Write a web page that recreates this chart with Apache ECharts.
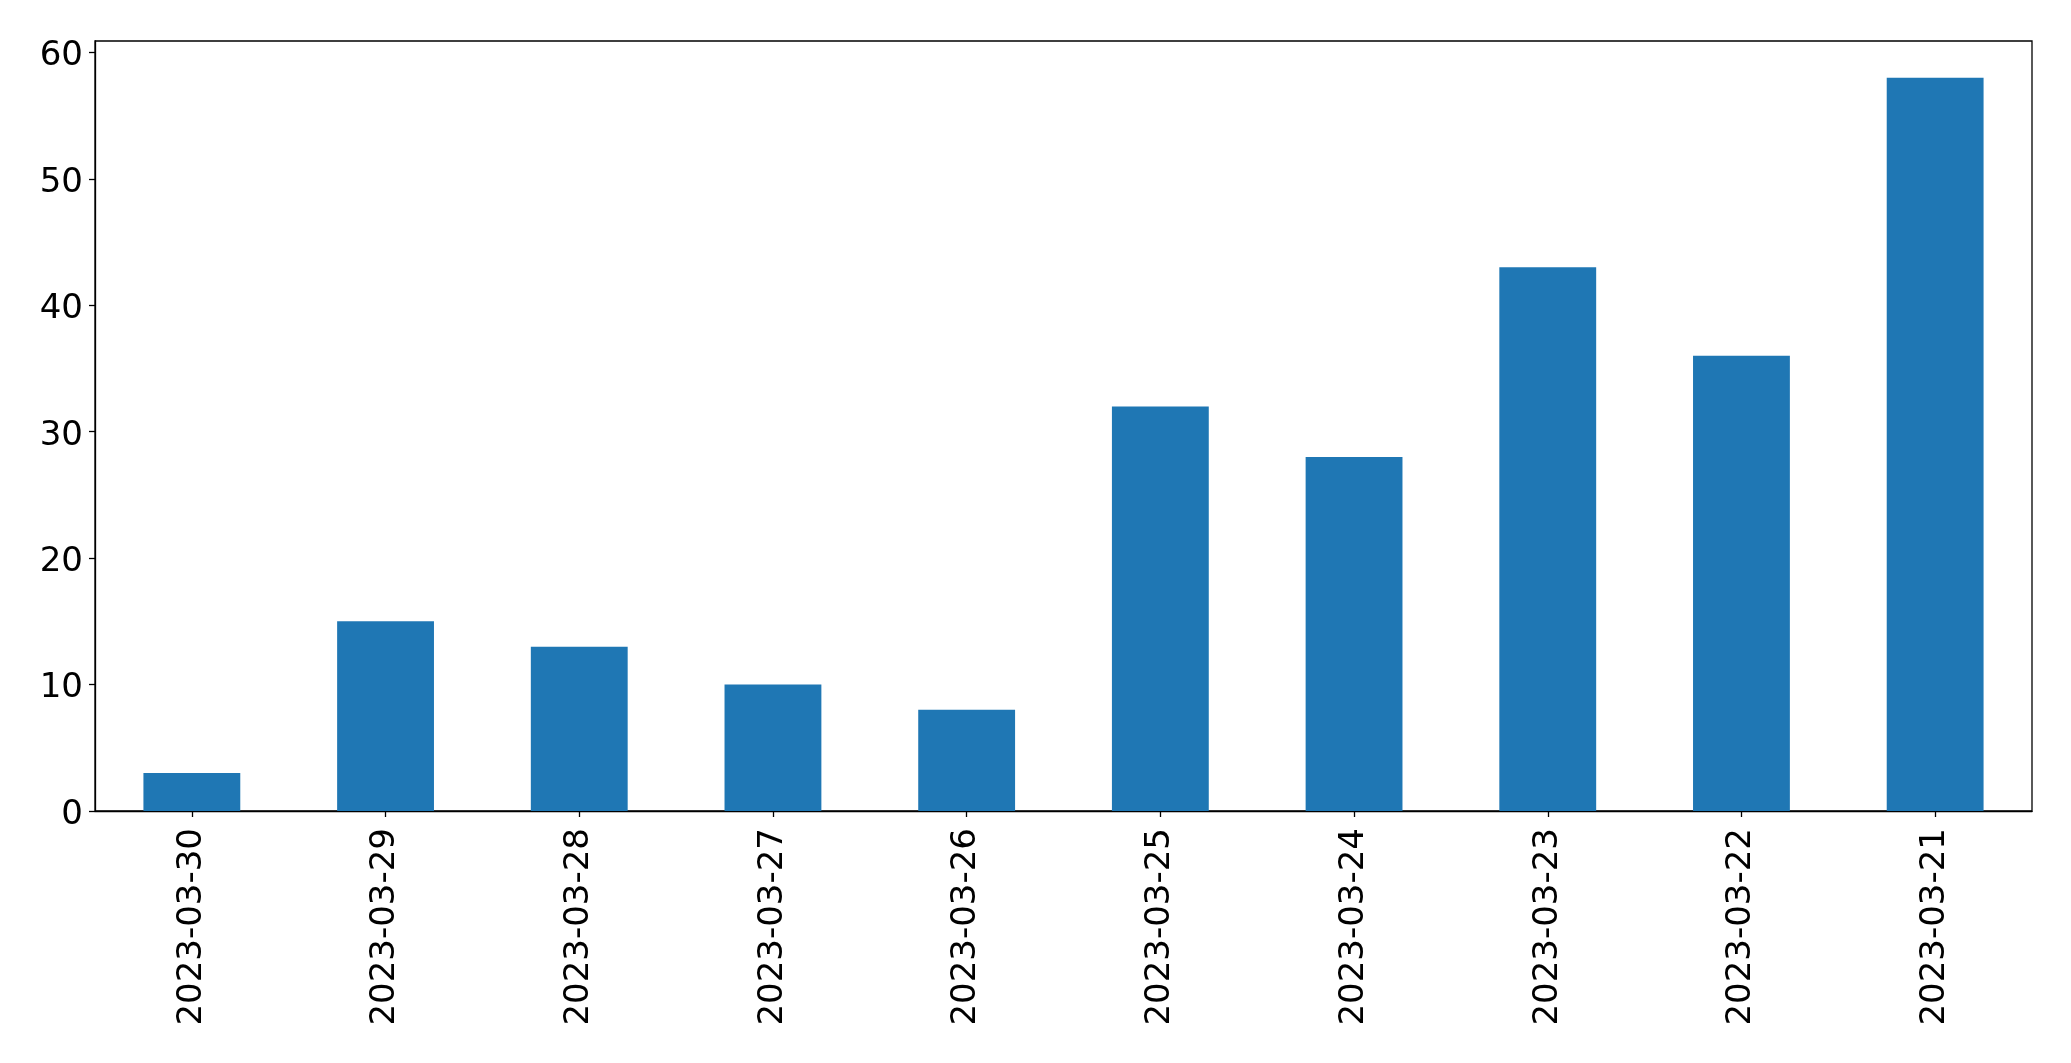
<!DOCTYPE html>
<html>
<head>
<meta charset="utf-8">
<title>bar</title>
<script src="https://cdn.jsdelivr.net/npm/echarts@6/dist/echarts.min.js"></script>
<style>
  html, body { margin: 0; padding: 0; background: #fff; }
  #chart { width: 2071px; height: 1063px; }
</style>
</head>
<body>
<div id="chart"></div>
<script>
// data
var categories = ["2023-03-30", "2023-03-29", "2023-03-28", "2023-03-27", "2023-03-26",
  "2023-03-25", "2023-03-24", "2023-03-23", "2023-03-22", "2023-03-21"];
var counts = [3, 15, 13, 10, 8, 32, 28, 43, 36, 58];
var yTicks = [0, 10, 20, 30, 40, 50, 60];

var chart = echarts.init(document.getElementById("chart"), null, { renderer: "canvas" });

var font = "DejaVu Sans";

chart.setOption({
  animation: false,
  grid: {
    left: 95,
    top: 41,
    width: 1937,
    height: 770,
    show: true,
    borderColor: "#000",
    borderWidth: 1.3,
    backgroundColor: "transparent"
  },
  xAxis: {
    type: "category",
    data: categories,
    boundaryGap: true,
    axisLine: { show: true, lineStyle: { color: "#000", width: 1.3 } },
    axisTick: { show: true, alignWithLabel: true, length: 6, lineStyle: { color: "#000", width: 1.3 } },
    axisLabel: {
      rotate: 90,
      margin: 17,
      interval: 0,
      color: "#000",
      fontFamily: font,
      fontSize: 34
    },
    splitLine: { show: false }
  },
  yAxis: {
    type: "value",
    min: 0,
    max: 60.9,
    axisLine: { show: true, lineStyle: { color: "#000", width: 1.3 } },
    axisTick: { show: true, length: 6, customValues: yTicks, lineStyle: { color: "#000", width: 1.3 } },
    axisLabel: {
      customValues: yTicks,
      margin: 12,
      color: "#000",
      fontFamily: font,
      fontSize: 34,
      // matplotlib sits the digits a little lower than centre
      formatter: "{v|{value}}",
      rich: {
        v: { fontFamily: font, fontSize: 34, color: "#000", padding: [8, 0, 0, 0] }
      }
    },
    splitLine: { show: false }
  },
  series: [
    {
      type: "bar",
      data: counts,
      barWidth: "50%",
      itemStyle: { color: "#1f77b4" }
    }
  ]
});
</script>
</body>
</html>
